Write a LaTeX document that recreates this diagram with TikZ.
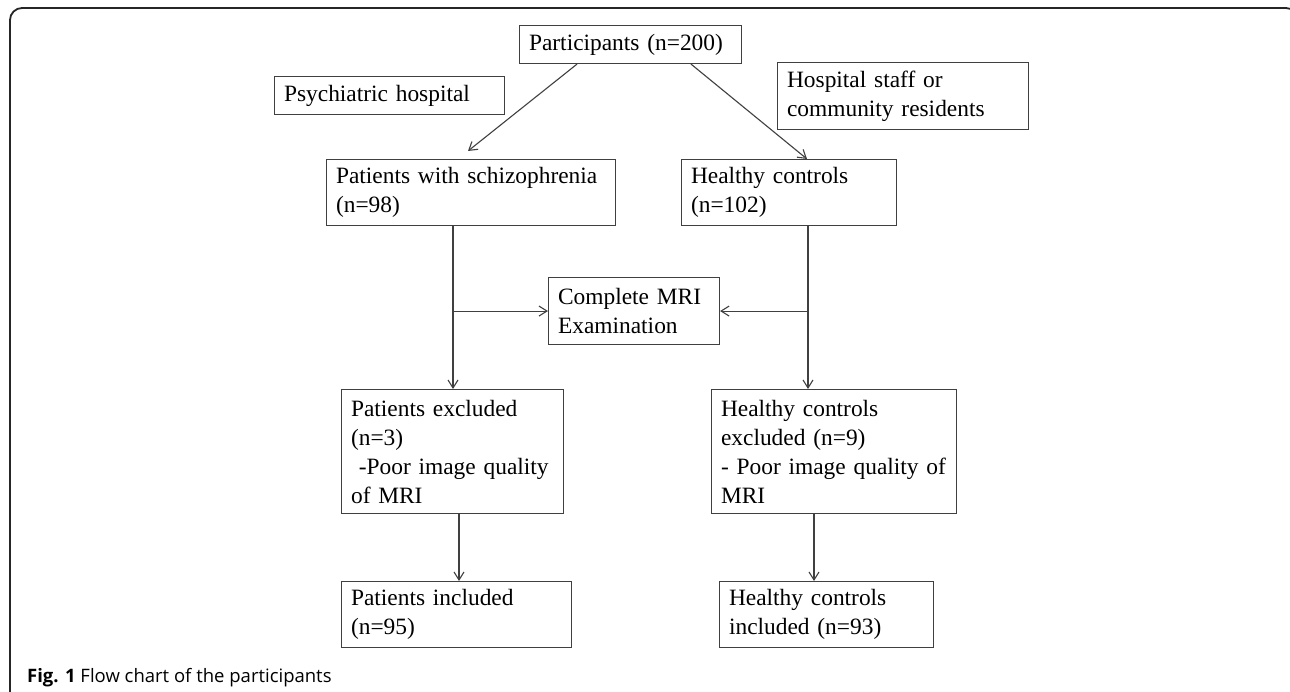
\documentclass[tikz,border=0pt]{standalone}
\usepackage{fontspec}
\setmainfont{Liberation Serif}
\newfontfamily\capfont{Open Sans}
\usetikzlibrary{arrows.meta,calc}
\definecolor{boxgray}{HTML}{404040}
\tikzset{
  box/.style={draw=boxgray, line width=1.1pt, inner xsep=9.5pt, inner ysep=0pt,
    align=left, anchor=north west, font=\fontsize{23.4}{29}\selectfont, text=black},
  conn/.style={draw=boxgray, line width=1.1pt, -{Straight Barb[length=8pt,width=10pt,line width=1.1pt]}},
  frame/.style={draw=black!85, line width=1.8pt, rounded corners=12pt}
}
\begin{document}
\begin{tikzpicture}[x=1pt,y=-1pt]
\useasboundingbox (0,0) rectangle (1290,691);
\begin{scope}
\clip (0,0) rectangle (1290,691);
\draw[frame] (10,8) rectangle (1298,720);
\end{scope}

\node[box, minimum width=222pt, text width=203pt, minimum height=38pt] (part) at (519,25) {Participants (n=200)};
\node[box, minimum width=230pt, text width=211pt, minimum height=38pt] (psych) at (274,76) {Psychiatric hospital};
\node[box, minimum width=251pt, text width=232pt, minimum height=67pt] (staff) at (777,62) {Hospital staff or\\community residents};
\node[box, minimum width=289pt, text width=270pt, minimum height=66pt] (pws) at (326,159) {Patients with schizophrenia\\(n=98)};
\node[box, minimum width=215pt, text width=196pt, minimum height=66pt] (hc) at (681,159) {Healthy controls\\(n=102)};
\node[box, minimum width=171pt, text width=152pt, minimum height=67pt] (mri) at (548,277) {Complete MRI\\Examination};
\node[box, minimum width=222pt, text width=203pt, minimum height=124pt] (pe) at (341,389) {Patients excluded\\(n=3)\\\ -Poor image quality\\of MRI};
\node[box, minimum width=245pt, text width=226pt, minimum height=124pt] (hce) at (711,389) {Healthy controls\\excluded (n=9)\\- Poor image quality of\\MRI};
\node[box, minimum width=230pt, text width=211pt, minimum height=66pt] (pi) at (341,581) {Patients included\\(n=95)};
\node[box, minimum width=214pt, text width=195pt, minimum height=66pt] (hci) at (719,581) {Healthy controls\\included (n=93)};

% diagonal arrows
\coordinate (pl) at ($(part.south west)+(58,0)$);
\coordinate (pr) at ($(part.south west)+(172,0)$);
\coordinate (tl) at ($(pws.north west)+(142,-8)$);
\coordinate (tr) at ($(hc.north west)+(126,0)$);
\draw[conn] (pl) -- (tl);
\draw[conn] (pr) -- (tr);

% verticals through MRI
\coordinate (ls) at ($(pws.south west)+(127,0)$);
\coordinate (rs) at ($(hc.south west)+(127,0)$);
\coordinate (lj) at (ls |- mri.west);
\coordinate (rj) at (rs |- mri.east);
\draw[conn] (ls) -- (ls |- pe.north);
\draw[conn] (rs) -- (rs |- hce.north);
\draw[conn] (lj) -- (mri.west);
\draw[conn] (rj) -- (mri.east);

% excluded -> included
\coordinate (le) at ($(pe.south west)+(118,0)$);
\coordinate (re) at ($(hce.south west)+(103,0)$);
\draw[conn] (le) -- (le |- pi.north);
\draw[conn] (re) -- (re |- hci.north);

\node[anchor=base west, inner sep=0pt, font=\capfont\fontsize{18.5}{22}\selectfont] (cap) at (27,682) {\textbf{Fig. 1} Flow chart of the participants};
\end{tikzpicture}
\end{document}
